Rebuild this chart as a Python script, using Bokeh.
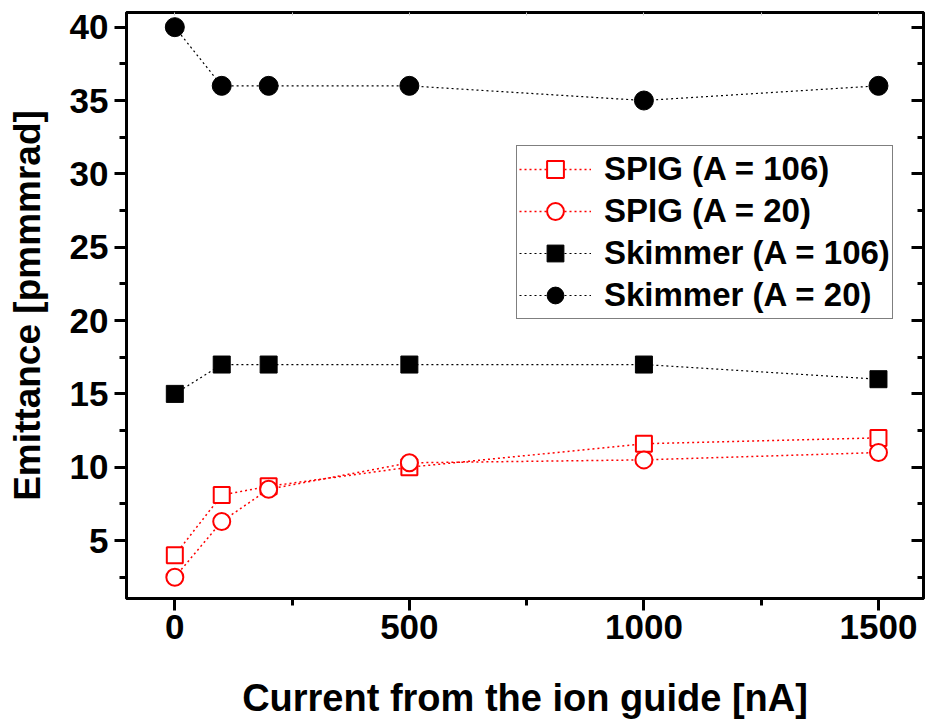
from bokeh.plotting import figure
from bokeh.models import LinearAxis, Range1d, Legend, LegendItem, FixedTicker
from bokeh.embed import file_html
from bokeh.resources import INLINE

current = [0, 100, 200, 500, 1000, 1500]
spig_106 = [4.0, 8.1, 8.7, 10.0, 11.6, 12.0]
spig_20 = [2.5, 6.3, 8.5, 10.3, 10.5, 11.0]
skim_106 = [15, 17, 17, 17, 17, 16]
skim_20 = [40, 36, 36, 36, 35, 36]
series_labels = ["SPIG (A = 106)", "SPIG (A = 20)", "Skimmer (A = 106)", "Skimmer (A = 20)"]
x_ticks = [0, 500, 1000, 1500]
x_minor = [250, 750, 1250]
y_ticks = [5, 10, 15, 20, 25, 30, 35, 40]
y_minor = [2.5, 7.5, 12.5, 17.5, 22.5, 27.5, 32.5, 37.5]

FONT = "Liberation Sans"
RED = "#ff0000"

p = figure(width=925, height=723, output_backend="svg", toolbar_location=None,
           x_range=Range1d(-103, 1596), y_range=Range1d(1.05, 41.0),
           x_axis_label="Current from the ion guide [nA]",
           y_axis_label="Emittance [pmmmrad]",
           min_border_left=126, min_border_right=2, min_border_top=12, min_border_bottom=125)
p.grid.visible = False
p.outline_line_color = "black"
p.outline_line_width = 3
p.background_fill_color = "white"
p.border_fill_color = "white"

def style_main(ax, ticks, minor, label_size):
    ax.ticker = FixedTicker(ticks=ticks, minor_ticks=minor)
    ax.axis_line_color = "black"
    ax.axis_line_width = 3
    ax.major_tick_line_width = 3
    ax.minor_tick_line_width = 3
    ax.major_tick_out = 12
    ax.major_tick_in = 0
    ax.minor_tick_out = 7
    ax.minor_tick_in = 0
    ax.major_label_text_font = FONT
    ax.major_label_text_font_style = "bold"
    ax.major_label_text_font_size = "35px"
    ax.major_label_text_color = "black"
    ax.axis_label_text_font = FONT
    ax.axis_label_text_font_style = "bold"
    ax.axis_label_text_font_size = label_size
    ax.axis_label_text_color = "black"

style_main(p.xaxis[0], x_ticks, x_minor, "38px")
style_main(p.yaxis[0], y_ticks, y_minor, "37px")
p.xaxis[0].major_label_standoff = 4
p.xaxis[0].axis_label_standoff = 35
p.yaxis[0].major_label_standoff = 6
p.yaxis[0].axis_label_standoff = 19

def frame_axis(ticks, minor, tick_in, minor_in, color, width):
    ax = LinearAxis(ticker=FixedTicker(ticks=ticks, minor_ticks=minor))
    ax.major_label_overrides = {t: "" for t in ticks}
    ax.major_label_text_color = None
    ax.major_label_standoff = 0
    ax.axis_line_width = 3
    ax.major_tick_in = tick_in
    ax.major_tick_out = 0
    ax.minor_tick_in = minor_in
    ax.minor_tick_out = 0
    ax.major_tick_line_color = color
    ax.minor_tick_line_color = color
    ax.major_tick_line_width = width
    ax.minor_tick_line_width = width
    return ax

p.add_layout(frame_axis(y_ticks, y_minor, 12, 6, "black", 3), "right")
p.add_layout(frame_axis(x_ticks, x_minor, 3, 3, "#c8c8c8", 1), "above")

DASH = "2 3"
l1 = p.line(current, spig_106, line_color=RED, line_width=1.5, line_dash=DASH)
s1 = p.scatter(current, spig_106, marker="square", size=16, line_color=RED,
               line_width=2, fill_color="white")
l2 = p.line(current, spig_20, line_color=RED, line_width=1.5, line_dash=DASH)
s2 = p.scatter(current, spig_20, marker="circle", size=17, line_color=RED,
               line_width=2, fill_color="white")
l3 = p.line(current, skim_106, line_color="black", line_width=1.2, line_dash=DASH)
s3 = p.scatter(current, skim_106, marker="square", size=17, line_color="black",
               fill_color="black")
l4 = p.line(current, skim_20, line_color="black", line_width=1.2, line_dash=DASH)
s4 = p.scatter(current, skim_20, marker="circle", size=19, line_color="black",
               fill_color="black")

legend = Legend(items=[
    LegendItem(label=series_labels[0], renderers=[l1, s1]),
    LegendItem(label=series_labels[1], renderers=[l2, s2]),
    LegendItem(label=series_labels[2], renderers=[l3, s3]),
    LegendItem(label=series_labels[3], renderers=[l4, s4]),
], location=(390, 279))
legend.label_text_font = FONT
legend.label_text_font_style = "bold"
legend.label_text_font_size = "33px"
legend.label_text_color = "black"
legend.glyph_width = 72
legend.glyph_height = 42
legend.label_height = 42
legend.spacing = 0
legend.padding = 2
legend.margin = 0
legend.label_standoff = 13
legend.border_line_color = "black"
legend.border_line_width = 1
legend.background_fill_alpha = 1
p.add_layout(legend)

open("out.html", "w").write(file_html(p, INLINE))
